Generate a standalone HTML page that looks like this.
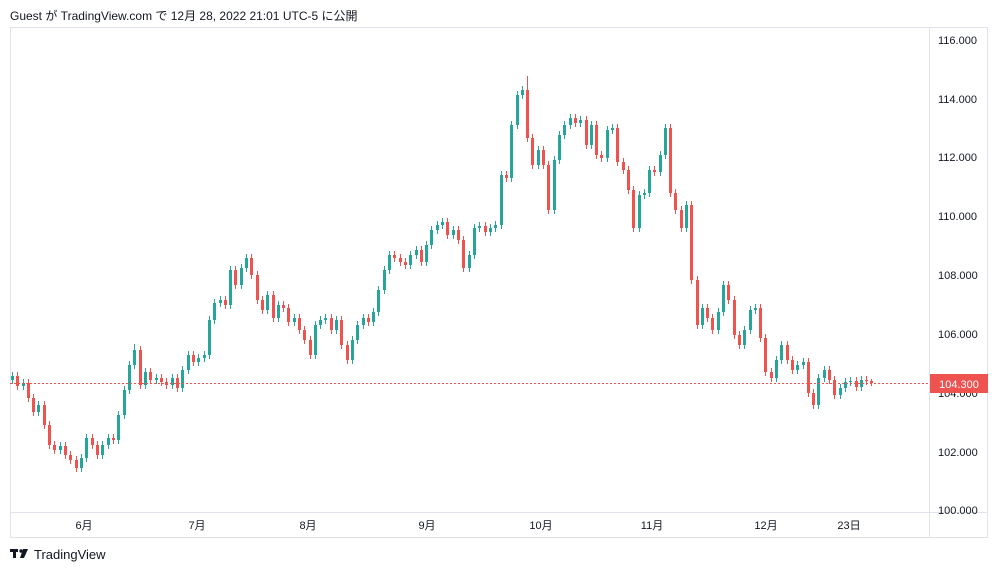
<!DOCTYPE html>
<html><head><meta charset="utf-8"><style>
body{margin:0;width:998px;height:573px;background:#fff;font-family:"Liberation Sans","Noto Sans CJK JP",sans-serif;overflow:hidden;position:relative}
.t{position:absolute;font-size:12px;color:#131722}
</style></head><body>
<div class="t" style="left:10px;top:7px">Guest が TradingView.com で 12月 28, 2022 21:01 UTC-5 に公開</div>
<svg width="998" height="573" style="position:absolute;left:0;top:0">
<rect x="10.5" y="27.5" width="977" height="510" fill="none" stroke="#e0e3eb"/>
<line x1="929.5" y1="28" x2="929.5" y2="537" stroke="#e0e3eb"/>
<line x1="10" y1="512.5" x2="988" y2="512.5" stroke="#e0e3eb"/>
<g font-size="11" fill="#131722" font-family="Liberation Sans,sans-serif">
<text x="938" y="44">116.000</text><text x="938" y="103">114.000</text><text x="938" y="161">112.000</text>
<text x="938" y="220">110.000</text><text x="938" y="279">108.000</text><text x="938" y="338">106.000</text>
<text x="938" y="397">104.000</text><text x="938" y="456">102.000</text><text x="938" y="514">100.000</text>
</g>
<g font-size="11" fill="#131722" text-anchor="middle" font-family="Liberation Sans,Noto Sans CJK JP,sans-serif">
<text x="84" y="529">6月</text><text x="197" y="529">7月</text><text x="308" y="529">8月</text><text x="427" y="529">9月</text>
<text x="541" y="529">10月</text><text x="652" y="529">11月</text><text x="766" y="529">12月</text><text x="849" y="529">23日</text>
</g>
<path fill="#26a69a" d="M11 376h3V380h-3zM22 383h3V386h-3zM37 405h3V412h-3zM59 446h3V450h-3zM80 458h3V468h-3zM85 438h3V458h-3zM101 445h3V455h-3zM107 438h3V445h-3zM117 415h3V440h-3zM123 390h3V415h-3zM128 365h3V390h-3zM133 350h3V365h-3zM144 372h3V385h-3zM155 378h3V380h-3zM171 378h3V385h-3zM181 370h3V388h-3zM187 355h3V370h-3zM197 358h3V362h-3zM203 355h3V358h-3zM208 320h3V355h-3zM213 303h3V320h-3zM219 300h3V303h-3zM229 270h3V305h-3zM240 268h3V285h-3zM245 258h3V268h-3zM266 295h3V310h-3zM277 305h3V318h-3zM293 318h3V322h-3zM314 325h3V355h-3zM319 320h3V325h-3zM324 318h3V320h-3zM335 320h3V330h-3zM351 340h3V360h-3zM356 325h3V340h-3zM362 318h3V325h-3zM372 312h3V322h-3zM377 290h3V312h-3zM383 270h3V290h-3zM388 255h3V270h-3zM409 255h3V265h-3zM415 250h3V255h-3zM425 245h3V262h-3zM430 230h3V245h-3zM436 225h3V230h-3zM441 222h3V225h-3zM452 230h3V235h-3zM468 255h3V268h-3zM473 228h3V255h-3zM478 226h3V228h-3zM489 228h3V232h-3zM494 225h3V228h-3zM500 175h3V225h-3zM510 125h3V178h-3zM516 95h3V125h-3zM521 90h3V95h-3zM537 150h3V165h-3zM553 160h3V210h-3zM558 135h3V160h-3zM563 125h3V135h-3zM569 118h3V125h-3zM579 120h3V123h-3zM590 125h3V145h-3zM606 130h3V158h-3zM611 128h3V130h-3zM638 195h3V228h-3zM643 193h3V195h-3zM648 170h3V193h-3zM659 155h3V172h-3zM664 128h3V155h-3zM685 205h3V228h-3zM701 308h3V325h-3zM717 312h3V330h-3zM722 285h3V312h-3zM743 330h3V345h-3zM749 310h3V330h-3zM754 308h3V310h-3zM775 360h3V378h-3zM780 345h3V360h-3zM796 365h3V370h-3zM802 362h3V365h-3zM817 378h3V405h-3zM823 370h3V378h-3zM839 388h3V395h-3zM844 382h3V388h-3zM849 381h3V382h-3zM860 380h3V387h-3z"/>
<path stroke="#26a69a" fill="none" d="M12.5 372V384M23.5 379V390M38.5 401V416M60.5 442V454M81.5 454V472M86.5 434V462M102.5 441V459M108.5 434V449M118.5 411V444M124.5 386V419M129.5 361V394M134.5 344V369M145.5 368V389M156.5 374V384M172.5 374V389M182.5 366V392M188.5 351V374M198.5 354V366M204.5 351V362M209.5 316V359M214.5 299V324M220.5 296V307M230.5 266V309M241.5 264V289M246.5 254V272M267.5 291V314M278.5 301V322M294.5 314V326M315.5 321V359M320.5 316V329M325.5 314V324M336.5 316V334M352.5 336V364M357.5 321V344M363.5 314V329M373.5 308V326M378.5 286V316M384.5 266V294M389.5 251V274M410.5 251V269M416.5 246V259M426.5 241V266M431.5 226V249M437.5 221V234M442.5 218V229M453.5 226V239M469.5 251V272M474.5 224V259M479.5 222V232M490.5 224V236M495.5 221V232M501.5 171V229M511.5 121V182M517.5 91V129M522.5 86V99M538.5 146V169M554.5 156V214M559.5 131V164M564.5 121V139M570.5 114V129M580.5 116V127M591.5 121V149M607.5 126V162M612.5 124V134M639.5 191V232M644.5 189V199M649.5 166V197M660.5 151V176M665.5 124V159M686.5 201V232M702.5 304V329M718.5 308V334M723.5 281V316M744.5 326V349M750.5 306V334M755.5 304V314M776.5 356V382M781.5 341V364M797.5 361V374M803.5 358V369M818.5 374V409M824.5 366V382M840.5 384V399M845.5 378V392M850.5 377V386M861.5 376V391"/>
<path fill="#ef5350" d="M16 376h3V386h-3zM27 383h3V398h-3zM32 398h3V412h-3zM43 405h3V425h-3zM48 425h3V445h-3zM53 445h3V450h-3zM64 446h3V455h-3zM69 455h3V460h-3zM75 460h3V468h-3zM91 438h3V445h-3zM96 445h3V455h-3zM112 438h3V440h-3zM139 350h3V385h-3zM149 372h3V380h-3zM160 378h3V382h-3zM165 382h3V385h-3zM176 378h3V388h-3zM192 355h3V362h-3zM224 300h3V305h-3zM234 270h3V285h-3zM250 258h3V275h-3zM256 275h3V300h-3zM261 300h3V310h-3zM272 295h3V318h-3zM282 305h3V308h-3zM287 308h3V322h-3zM298 318h3V330h-3zM303 330h3V340h-3zM309 340h3V355h-3zM330 318h3V330h-3zM340 320h3V345h-3zM346 345h3V360h-3zM367 318h3V322h-3zM393 255h3V258h-3zM399 258h3V262h-3zM404 262h3V265h-3zM420 250h3V262h-3zM446 222h3V235h-3zM457 230h3V240h-3zM462 240h3V268h-3zM484 226h3V232h-3zM505 175h3V178h-3zM526 90h3V138h-3zM531 138h3V165h-3zM542 150h3V165h-3zM547 165h3V210h-3zM574 118h3V123h-3zM585 120h3V145h-3zM595 125h3V155h-3zM600 155h3V158h-3zM616 128h3V162h-3zM622 162h3V170h-3zM627 170h3V190h-3zM632 190h3V228h-3zM653 170h3V172h-3zM669 128h3V193h-3zM674 193h3V210h-3zM680 210h3V228h-3zM690 205h3V280h-3zM696 280h3V325h-3zM706 308h3V318h-3zM711 318h3V330h-3zM727 285h3V300h-3zM733 300h3V335h-3zM738 335h3V345h-3zM759 308h3V338h-3zM764 338h3V372h-3zM770 372h3V378h-3zM786 345h3V360h-3zM791 360h3V370h-3zM807 362h3V393h-3zM812 393h3V405h-3zM828 370h3V380h-3zM833 380h3V395h-3zM855 381h3V387h-3zM865 380h3V381h-3zM870 381h3V383h-3z"/>
<path stroke="#ef5350" fill="none" d="M17.5 372V390M28.5 379V402M33.5 394V416M44.5 401V429M49.5 421V449M54.5 441V454M65.5 442V459M70.5 451V464M76.5 456V472M92.5 434V449M97.5 441V459M113.5 434V444M140.5 346V389M150.5 368V384M161.5 374V386M166.5 378V389M177.5 374V392M193.5 351V366M225.5 296V309M235.5 266V289M251.5 254V279M257.5 271V304M262.5 296V314M273.5 291V322M283.5 301V312M288.5 304V326M299.5 314V334M304.5 326V344M310.5 336V359M331.5 314V334M341.5 316V349M347.5 341V364M368.5 314V326M394.5 251V262M400.5 254V266M405.5 258V269M421.5 246V266M447.5 218V239M458.5 226V244M463.5 236V272M485.5 222V236M506.5 171V182M527.5 76V142M532.5 134V169M543.5 146V169M548.5 161V214M575.5 114V127M586.5 116V149M596.5 121V159M601.5 151V162M617.5 124V166M623.5 158V174M628.5 166V194M633.5 186V232M654.5 166V176M670.5 124V197M675.5 189V214M681.5 206V232M691.5 201V284M697.5 276V329M707.5 304V322M712.5 314V334M728.5 281V304M734.5 296V339M739.5 331V349M760.5 304V342M765.5 334V376M771.5 368V382M787.5 341V364M792.5 356V374M808.5 358V397M813.5 389V409M829.5 366V384M834.5 376V399M856.5 377V391M866.5 376V385M871.5 379V386"/>
<line x1="10" y1="383.5" x2="929" y2="383.5" stroke="#ef5350" stroke-dasharray="2,2"/>
<rect x="930" y="374" width="58" height="19" fill="#ef5350"/>
<text x="959" y="388" font-size="11" fill="#fff" text-anchor="middle" font-family="Liberation Sans,sans-serif">104.300</text>
<g fill="#131722"><rect x="10" y="549" width="8" height="3"/><rect x="13" y="549" width="3" height="9"/><circle cx="21" cy="551" r="1.7"/><polygon points="23,549 28,549 24,558 20,558"/></g>
<text x="34" y="559" font-size="13" fill="#131722" font-family="Liberation Sans,sans-serif">TradingView</text>
</svg>
</body></html>
